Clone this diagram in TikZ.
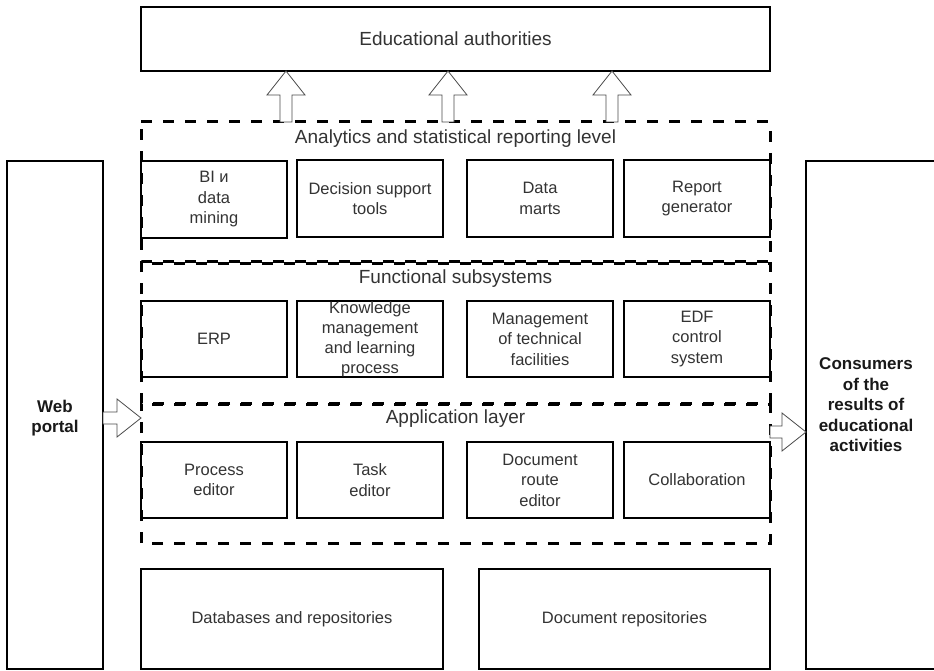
\documentclass[tikz,border=0pt]{standalone}
\usepackage{fontspec}
\setmainfont{Liberation Sans}
\usetikzlibrary{calc}
\definecolor{txt}{HTML}{333333}
\tikzset{
  box/.style={draw=black, line width=2.7pt, inner sep=0pt, outer sep=0pt, align=center,
    text=txt, font=\fontsize{16.5}{20.5}\selectfont},
  cell/.style={box, minimum width=146pt, minimum height=77pt},
  layer/.style={draw=none, inner sep=0pt, outer sep=0pt, minimum width=629pt},
  dashline/.style={draw=black, line width=3pt, dash pattern=on 11pt off 11pt},
  head/.style={text=txt, font=\fontsize{19}{23}\selectfont, inner sep=0pt},
  sidetext/.style={align=center, inner sep=0pt, text=black!90,
    font=\bfseries\fontsize{17}{20.5}\selectfont},
  blockarrow/.style={draw=black!70, line width=0.8pt, fill=white, line join=miter,
    to path={
      ($(\tikztostart)!6pt!90:(\tikztotarget)$) --
      ($(\tikztotarget)!24.74pt!-14.04:(\tikztostart)$) --
      ($(\tikztotarget)!30.61pt!-38.37:(\tikztostart)$) --
      (\tikztotarget) --
      ($(\tikztotarget)!30.61pt!38.37:(\tikztostart)$) --
      ($(\tikztotarget)!24.74pt!14.04:(\tikztostart)$) --
      ($(\tikztostart)!6pt!-90:(\tikztotarget)$) -- cycle}}
}
\begin{document}
\begin{tikzpicture}[x=1pt,y=-1pt]
\useasboundingbox[fill=white] (0,0) rectangle (934,671);

% layers (dashed frames)
\node[layer, minimum height=139pt] (ana) at (455.5,191.5) {};
\node[layer, minimum height=140pt] (fun) at (455.5,333) {};
\node[layer, minimum height=139pt] (app) at (455.5,473.5) {};
\draw[dashline] (ana.north west) -- (ana.north east) -- (ana.south east) -- (ana.south west) -- cycle;
\draw[dashline, dash phase=11pt] (fun.north west) -- (fun.north east) -- (fun.south east) -- (fun.south west) -- cycle;
\draw[dashline, dash phase=11pt] (app.north west) -- (app.north east) -- (app.south east) -- (app.south west) -- cycle;

\node[head] (anat) at ($(ana.north)+(0,17)$) {Analytics and statistical reporting level};
\node[head] (funt) at ($(fun.north)+(0,16)$) {Functional subsystems};
\node[head] (appt) at ($(app.north)+(0,15)$) {Application layer};

% top box
\node[box, minimum width=629pt, minimum height=64pt, font=\fontsize{19}{23}\selectfont] (ea) at (455.5,39) {Educational authorities};

% row 1
\node[cell] (bi)  at (214,199.5) {BI и\\data\\mining};
\node[cell] (dss) at (370,198.5) {Decision support\\tools};
\node[cell] (dm)  at (540,198.5) {Data\\marts};
\node[cell] (rg)  at (697,198.5) {Report\\generator};
% row 2
\node[cell, minimum height=76pt] (erp) at (214,339) {ERP};
\node[cell, minimum height=76pt, font=\fontsize{16.5}{20}\selectfont] (km) at (370,339) {Knowledge\\management\\and learning\\process};
\node[cell, minimum height=76pt] (mtf) at (540,339) {Management\\of technical\\facilities};
\node[cell, minimum height=76pt] (edf) at (697,339) {EDF\\control\\system};
% row 3
\node[cell, minimum height=76pt] (pe)  at (214,480) {Process\\editor};
\node[cell, minimum height=76pt] (te)  at (370,480) {Task\\editor};
\node[cell, minimum height=76pt] (dre) at (540,480) {Document\\route\\editor};
\node[cell, minimum height=76pt] (col) at (697,480) {Collaboration};

% bottom boxes
\node[box, minimum width=302pt, minimum height=100pt] (db) at (292,619) {Databases and repositories};
\node[box, minimum width=291pt, minimum height=100pt] (dr) at (624.5,619) {Document repositories};

% side boxes
\node[box, minimum width=96pt, minimum height=508pt] (web) at (55,415) {};
\node[sidetext] (webt) at (55,418) {Web\\portal};
\node[box, minimum width=140pt, minimum height=508pt] (cons) at (876,415) {};
\node[sidetext] (const) at (866,405) {Consumers\\of the\\results of\\educational\\activities};

% block arrows
\coordinate (u1) at (286,122); \coordinate (t1) at (u1 |- ea.south);
\coordinate (u2) at (448,122); \coordinate (t2) at (u2 |- ea.south);
\coordinate (u3) at (612,122); \coordinate (t3) at (u3 |- ea.south);
\draw[blockarrow] (u1) to (t1);
\draw[blockarrow] (u2) to (t2);
\draw[blockarrow] (u3) to (t3);
\coordinate (ws) at (web.east |- 0,418); \coordinate (wt) at (app.west |- ws);
\draw[blockarrow] (ws) to (wt);
\coordinate (cs) at (app.east |- 0,432); \coordinate (ct) at (cons.west |- cs);
\draw[blockarrow] (cs) to (ct);
\end{tikzpicture}
\end{document}
